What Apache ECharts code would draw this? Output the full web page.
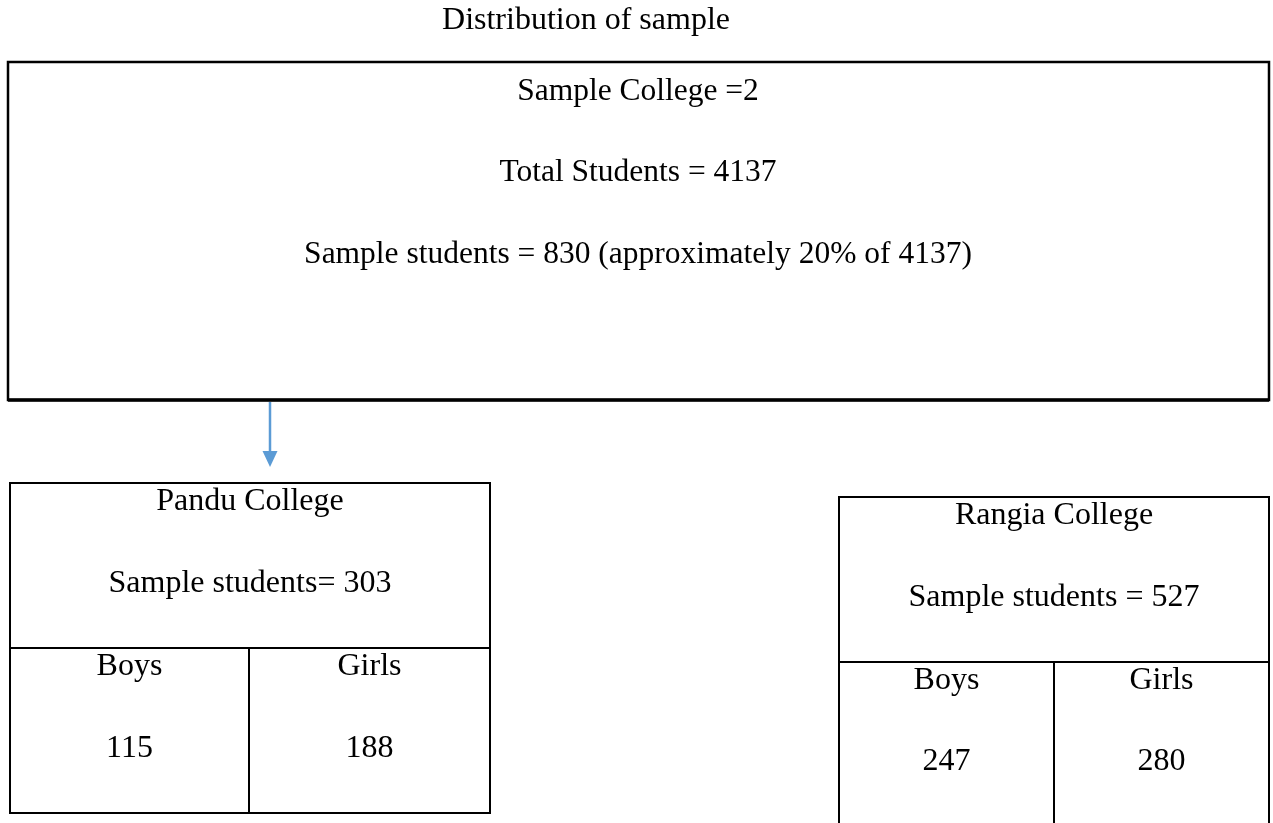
<!DOCTYPE html>
<html>
<head>
<meta charset="utf-8">
<script src="https://cdn.jsdelivr.net/npm/echarts@6/dist/echarts.min.js"></script>
<style>
html,body{margin:0;padding:0;background:#fff;}
#chart{width:1273px;height:823px;}
</style>
</head>
<body>
<div id="chart"></div>
<script>
// ---- data ----
const title = 'Distribution of sample';
const sampleColleges = 2;
const totalStudents = 4137;
const sampleStudents = 830;
const samplePercent = 20;
const colleges = ['Pandu College', 'Rangia College'];
const collegeSamples = [303, 527];
const genders = ['Boys', 'Girls'];
const boys = [115, 247];
const girls = [188, 280];

// ---- layout (styling only) ----
const FONT = '"Liberation Serif", "Times New Roman", serif';
function txt(str, x, y, fs) {
  return { type: 'text', x: x, y: y, silent: true,
    style: { text: str, fontSize: fs, fontFamily: FONT, fill: '#000', align: 'center', verticalAlign: 'middle' } };
}
function rect(x, y, w, h, lw) {
  return { type: 'rect', shape: { x: x, y: y, width: w, height: h },
    style: { fill: 'none', stroke: '#000', lineWidth: lw } };
}
function line(x1, y1, x2, y2, lw, color) {
  return { type: 'line', shape: { x1: x1, y1: y1, x2: x2, y2: y2 },
    style: { stroke: color || '#000', lineWidth: lw } };
}

const els = [];
els.push(txt(title, 586, 21, 32));
// main box
els.push(rect(8, 62, 1261, 338, 2.5));
els.push(line(8, 400, 1269, 400, 3.5));
els.push(txt('Sample College =' + sampleColleges, 638, 91.5, 31.5));
els.push(txt('Total Students = ' + totalStudents, 638, 172.5, 31.5));
els.push(txt('Sample students = ' + sampleStudents + ' (approximately ' + samplePercent + '% of ' + totalStudents + ')', 638, 254.5, 31.5));
// arrow
els.push(line(270, 402, 270, 454, 2.5, '#5B9BD5'));
els.push({ type: 'polygon', shape: { points: [[262.5, 451], [277.5, 451], [270, 467]] }, style: { fill: '#5B9BD5' } });

// college boxes
const boxes = [
  { left: 10, top: 483, right: 490, mid: 648, bottom: 813, vx: 249,
    tY: [502, 584, 667, 749], sep: '= ' },
  { left: 839, top: 497, right: 1269, mid: 662, bottom: 830, vx: 1054,
    tY: [516, 598, 681, 762], sep: ' = ' }
];
boxes.forEach(function (b, i) {
  els.push(rect(b.left, b.top, b.right - b.left, b.bottom - b.top, 2));
  els.push(line(b.left, b.mid, b.right, b.mid, 2));
  els.push(line(b.vx, b.mid, b.vx, b.bottom, 2));
  const cx = (b.left + b.right) / 2;
  const c1 = (b.left + b.vx) / 2;
  const c2 = (b.vx + b.right) / 2;
  els.push(txt(colleges[i], cx, b.tY[0], 32));
  els.push(txt('Sample students' + b.sep + collegeSamples[i], cx, b.tY[1], 32));
  els.push(txt(genders[0], c1, b.tY[2], 32));
  els.push(txt(genders[1], c2, b.tY[2], 32));
  els.push(txt(String(boys[i]), c1, b.tY[3], 32));
  els.push(txt(String(girls[i]), c2, b.tY[3], 32));
});

const chart = echarts.init(document.getElementById('chart'), null, { renderer: 'canvas' });
chart.setOption({
  backgroundColor: '#fff',
  animation: false,
  graphic: { elements: els }
});
</script>
</body>
</html>
